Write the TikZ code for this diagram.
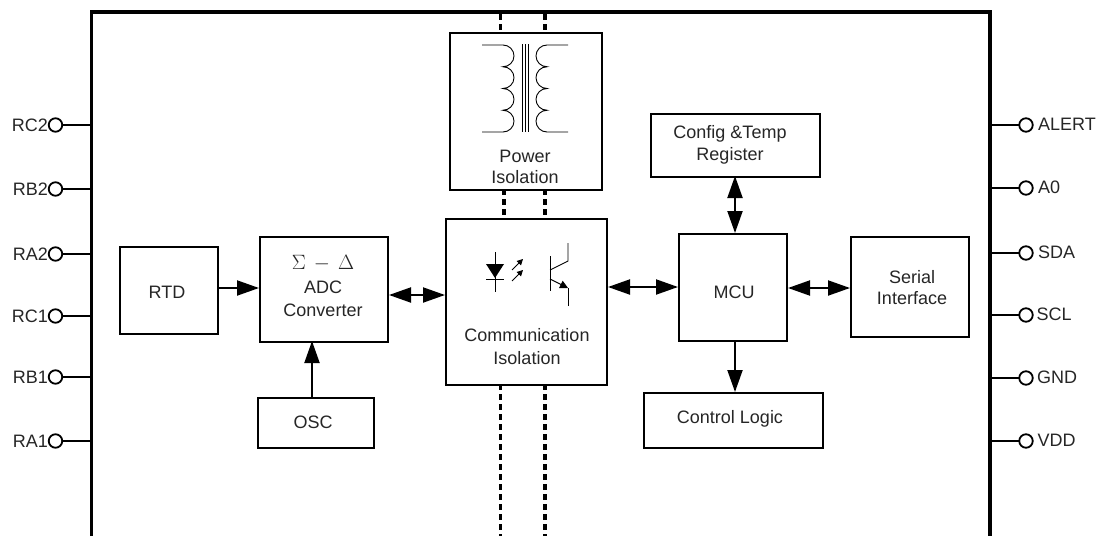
\documentclass[tikz,border=0pt]{standalone}
\usepackage{fontspec}
\setmainfont{Liberation Sans}
\usetikzlibrary{arrows.meta}
\tikzset{
 blk/.style n args={2}{draw=black,line width=2pt,fill=white,minimum width=#1,minimum height=#2,inner sep=0pt,anchor=north west},
 lbl/.style={inner sep=0pt,text=black!85,font=\fontsize{18}{21}\selectfont},
 pinc/.style={circle,draw=black,line width=1.8pt,fill=white,minimum size=13.5pt,inner sep=0pt},
 wire/.style={line width=1.4pt},
 dots/.style={line width=3.4pt,dash pattern=on 6pt off 4pt},
 ar/.style={line width=2pt,-{Triangle[length=22pt,width=15pt]}},
 bi/.style={line width=2pt,{Triangle[length=22pt,width=15pt]}-{Triangle[length=22pt,width=15pt]}},
 fine/.style={line width=0.9pt},
}
\begin{document}
\begin{tikzpicture}[x=1pt,y=-1pt]
\useasboundingbox (0,0) rectangle (1103,536);
% outer frame
\draw[line width=3.6pt] (91.5,536) -- (91.5,12) -- (990,12) -- (990,536);
% dotted links
\coordinate (t1) at (500.7,14); \coordinate (t2) at (545,14);
\coordinate (b1) at (500.7,536); \coordinate (b2) at (545,536);
\draw[dots] (t1) -- (500.7,32); \draw[dots] (t2) -- (545,32);
\draw[dots] (504,189) -- (504,218); \draw[dots] (545,189) -- (545,218);
\draw[dots] (500.7,384) -- (b1); \draw[dots] (545,384) -- (b2);
% blocks
\node[blk={152pt}{157pt}] (pw) at (449,32) {};
\node[lbl,align=center] (pwt) at (525,167) {Power\\[0pt]Isolation};
\node[blk={161pt}{166pt}] (com) at (445,218) {};
\node[lbl,align=center,font=\fontsize{18}{23}\selectfont] (comt) at (527,347) {Communication\\Isolation};
\node[blk={98pt}{87pt}] (rtd) at (119,246) {};
\node[lbl] (rtdt) at (167,292) {RTD};
\node[blk={128pt}{105pt}] (adc) at (259,236) {};
\node[lbl,align=center,font=\fontsize{18}{23}\selectfont] (adct) at (323,299) {ADC\\Converter};
\node[lbl,font=\fontsize{20}{22}\selectfont] (sd) at (323,263) {$\Sigma\,-\,\Delta$};
\node[blk={116pt}{50pt}] (osc) at (257,397) {};
\node[lbl] (osct) at (313,422) {OSC};
\node[blk={169pt}{63pt}] (cfg) at (650,113) {};
\node[lbl,align=center,font=\fontsize{18}{22}\selectfont] (cfgt) at (730,145) {Config \&Temp\\Register};
\node[blk={108pt}{107pt}] (mcu) at (678,233) {};
\node[lbl] (mcut) at (734,292) {MCU};
\node[blk={118pt}{100pt}] (ser) at (850,236) {};
\node[lbl,align=center] (sert) at (912,288) {Serial\\Interface};
\node[blk={179pt}{55pt}] (ctl) at (643,392) {};
\node[lbl] (ctlt) at (730,419) {Control Logic};
% arrows
\draw[ar] (rtd.east|-0,288) -- (adc.west|-0,288);
\draw[ar] (312,397) -- (312,341);
\draw[bi] (adc.east|-0,295) -- (com.west|-0,295);
\draw[bi] (com.east|-0,287) -- (mcu.west|-0,287);
\draw[bi] (mcu.east|-0,288) -- (ser.west|-0,288);
\draw[bi] (735,176) -- (735,233);
\draw[ar] (735,340) -- (735,392);
% left pins
\foreach \n/\t/\y in {l1/RC2/125,l2/RB2/189,l3/RA2/254,l4/RC1/316,l5/RB1/377,l6/RA1/441}{
  \coordinate (\n e) at (91,\y);
  \draw[wire] (56,\y) -- (\n e);
  \node[pinc] (\n) at (55.5,\y) {};
  \node[lbl,anchor=east] (\n t) at (48,\y) {\t};
}
% right pins
\foreach \n/\t/\y/\x in {r1/ALERT/125/1038,r2/A0/188/1038,r3/SDA/253/1038,r4/SCL/315/1036.5,r5/GND/378/1037,r6/VDD/441/1037.5}{
  \coordinate (\n e) at (991,\y);
  \draw[wire] (1026,\y) -- (\n e);
  \node[pinc] (\n) at (1026,\y) {};
  \node[lbl,anchor=west] (\n t) at (\x,\y-0.5) {\t};
}
% transformer
\begin{scope}[fine]
\draw (482,45) -- (503,45) arc (-90:90:11 and 10.875) arc (-90:90:11 and 10.875) arc (-90:90:11 and 10.875) arc (-90:90:11 and 10.875) -- (482,132);
\draw (568,45) -- (547,45) arc (270:90:11 and 10.875) arc (270:90:11 and 10.875) arc (270:90:11 and 10.875) arc (270:90:11 and 10.875) -- (568,132);
\draw (522.5,44) -- (522.5,132); \draw (525.5,44) -- (525.5,132); \draw (528.5,44) -- (528.5,132);
\end{scope}
% LED
\begin{scope}[fine]
\draw (495,252) -- (495,292);
\draw (486,279) -- (504,279);
\fill (486,264) -- (504,264) -- (495,278) -- cycle;
\draw[-{Triangle[length=6pt,width=6pt]}] (512,270) -- (523,259);
\draw[-{Triangle[length=6pt,width=6pt]}] (512,281) -- (523,270);
% transistor
\draw (550,256) -- (550,291);
\draw (550,270) -- (568,261) -- (568,243);
\draw (568,306) -- (568,288);
\draw[-{Triangle[length=8pt,width=8pt]}] (550,279) -- (568,288);
\end{scope}
\end{tikzpicture}
\end{document}
